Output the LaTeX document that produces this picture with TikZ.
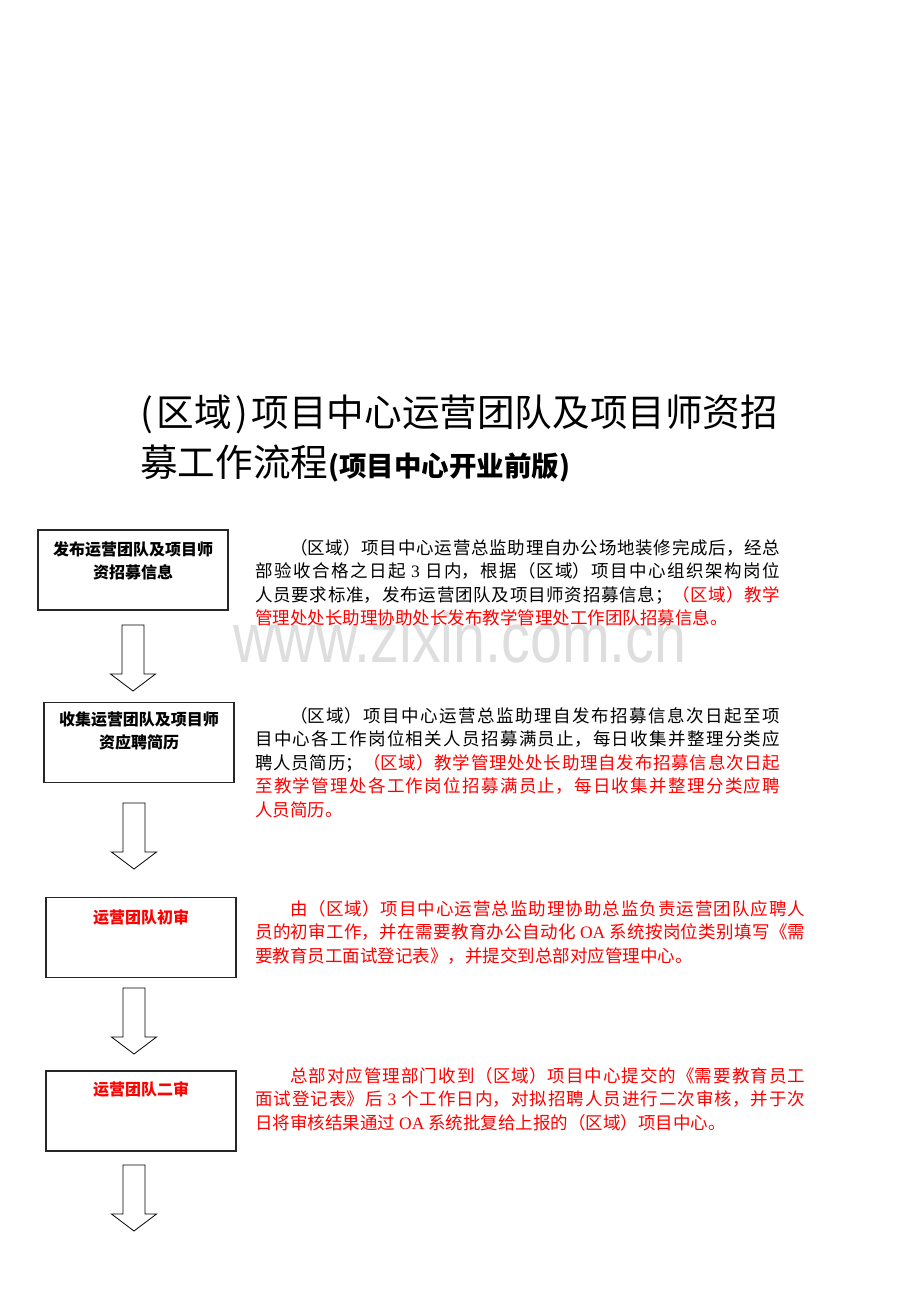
\documentclass[tikz,border=0pt]{standalone}
\usepackage{fontspec}
\setmainfont{Noto Sans CJK SC}
\newfontfamily\latinrm{Liberation Serif}
\newfontfamily\markfont{Liberation Sans}
\usetikzlibrary{positioning}
\XeTeXlinebreaklocale "zh"
\XeTeXlinebreakskip=0pt plus 2pt
\tolerance=9999

\begin{document}
\begin{tikzpicture}[x=1pt,y=-1pt,
    flowbox/.style={draw=black!85,line width=1.2pt,minimum width=190pt,minimum height=80pt,inner sep=0pt},
    boxtitle/.style={font=\bfseries\fontsize{16}{23}\selectfont,align=center,inner sep=0pt},
    bodytext/.style={anchor=north west,align=justify,inner sep=0pt,font=\fontsize{17.5}{23.5}\selectfont},
    blockarrow/.style={draw=black,line width=0.8pt,fill=white,line join=miter}]
  \path[fill=white] (0,0) rectangle (920,1302);
  \useasboundingbox (0,0) rectangle (920,1302);

  % title
  \node[anchor=west,inner sep=0pt,font=\fontsize{37.6}{40}\selectfont] (title1) at (140,414)
    {(\hspace{3.5pt}区域\hspace{3.5pt})\hspace{4pt}项目中心运营团队及项目师资招};
  \node[anchor=west,inner sep=0pt,font=\fontsize{37.6}{40}\selectfont] (title2) at (140,464)
    {募工作流程{\bfseries\fontsize{27.5}{30}\selectfont(项目中心开业前版)}};

  % watermark
  \node[inner sep=0pt,text=black!13,font=\markfont\fontsize{70}{70}\selectfont] (mark) at (460,637)
    {\scalebox{0.82}[1]{www.zixin.com.cn}};

  % steps
  \node[flowbox] (b1) at (133,570) {};
  \node[flowbox] (b2) at (139,742.5) {};
  \node[flowbox] (b3) at (141,937.5) {};
  \node[flowbox] (b4) at (141,1111) {};
  \node[boxtitle,below=12pt of b1.north] (t1) {发布运营团队及项目师\\资招募信息};
  \node[boxtitle,below=10pt of b2.north] (t2) {收集运营团队及项目师\\资应聘简历};
  \node[boxtitle,text=red,below=12pt of b3.north] (t3) {运营团队初审};
  \node[boxtitle,text=red,below=11pt of b4.north] (t4) {运营团队二审};

  \foreach \c/\t in {133/625,134/803,134/988,134/1165}
    \draw[blockarrow] ({\c-11},\t) -- ({\c+11},\t) -- ({\c+11},{\t+49}) -- ({\c+22.5},{\t+49})
      -- (\c,{\t+66}) -- ({\c-22.5},{\t+49}) -- ({\c-11},{\t+49}) -- cycle;

  % descriptions
  \node[bodytext,text width=525pt] (d1) at (255,539) {\hspace*{2em}（区域）项目中心运营总监助理自办公场地装修完成后，经总\linebreak
    部验收合格之日起 {\latinrm 3} 日内，根据（区域）项目中心组织架构岗位\linebreak
    人员要求标准，发布运营团队及项目师资招募信息；\textcolor{red}{（区域）教学\linebreak
    管理处处长助理协助处长发布教学管理处工作团队招募信息。}};
  \node[bodytext,text width=525pt] (d2) at (255,707) {\hspace*{2em}（区域）项目中心运营总监助理自发布招募信息次日起至项\linebreak
    目中心各工作岗位相关人员招募满员止，每日收集并整理分类应\linebreak
    聘人员简历；\textcolor{red}{（区域）教学管理处处长助理自发布招募信息次日起\linebreak
    至教学管理处各工作岗位招募满员止，每日收集并整理分类应聘\linebreak
    人员简历。}};
  \node[bodytext,text width=550pt,text=red] (d3) at (255,900) {\hspace*{2em}由（区域）项目中心运营总监助理协助总监负责运营团队应聘人\linebreak
    员的初审工作，并在需要教育办公自动化 {\latinrm OA} 系统按岗位类别填写《需\linebreak
    要教育员工面试登记表》，并提交到总部对应管理中心。};
  \node[bodytext,text width=550pt,text=red] (d4) at (255,1067) {\hspace*{2em}总部对应管理部门收到（区域）项目中心提交的《需要教育员工\linebreak
    面试登记表》后 {\latinrm 3} 个工作日内，对拟招聘人员进行二次审核，并于次\linebreak
    日将审核结果通过 {\latinrm OA} 系统批复给上报的（区域）项目中心。};
\end{tikzpicture}
\end{document}
